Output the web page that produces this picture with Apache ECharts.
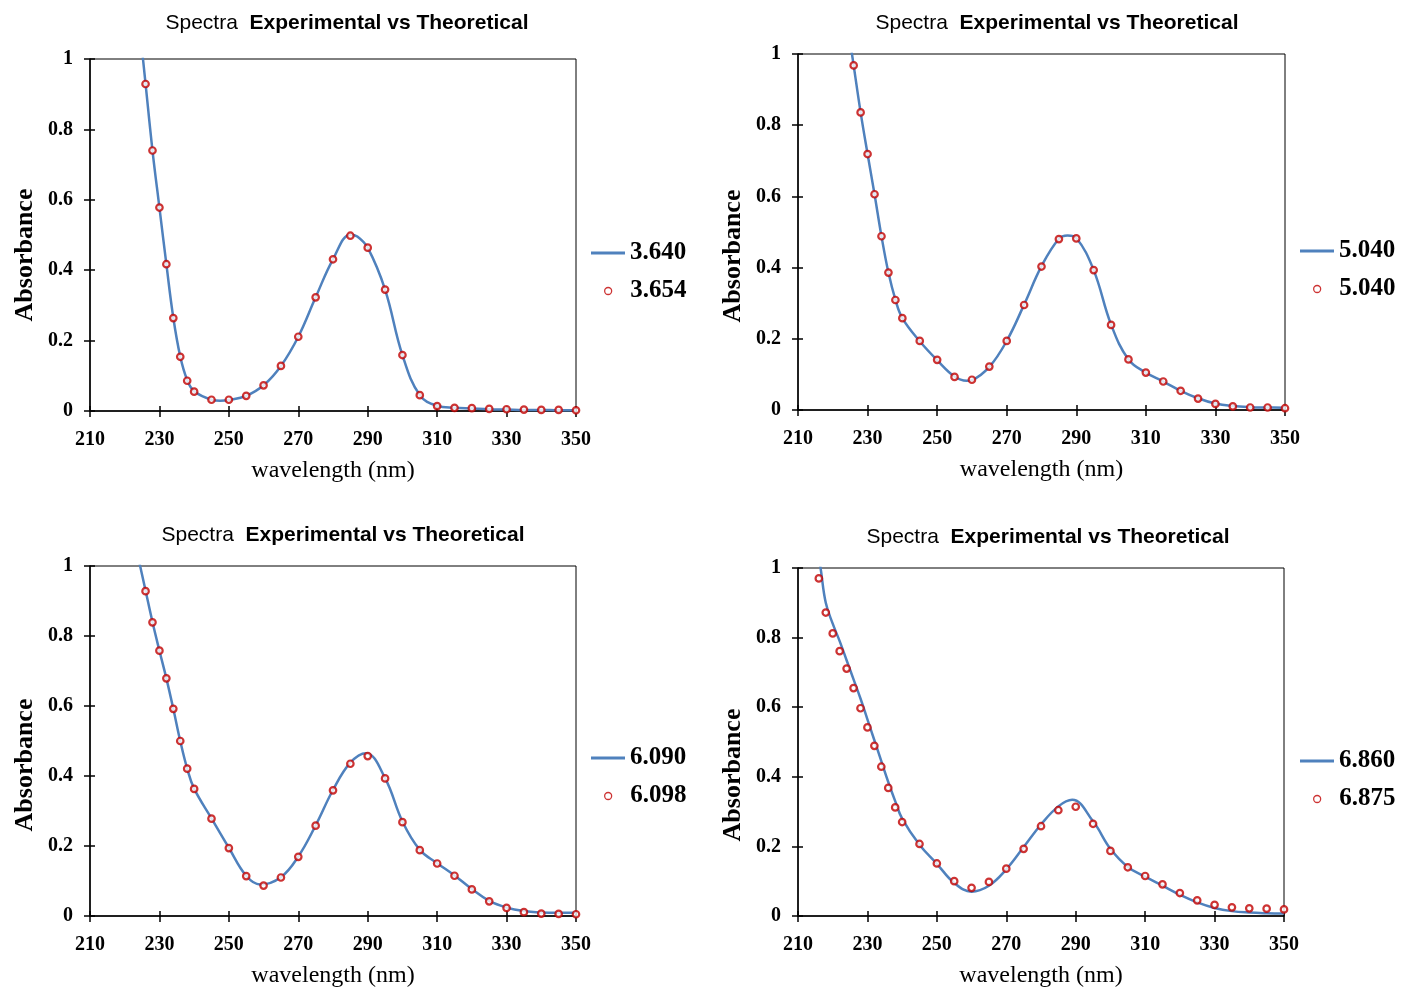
<!DOCTYPE html>
<html>
<head>
<meta charset="utf-8">
<title>Spectra Experimental vs Theoretical</title>
<script src="https://cdn.jsdelivr.net/npm/echarts@6/dist/echarts.min.js"></script>
<style>
    html, body { margin: 0; padding: 0; background: #fff; }
    #chart { width: 1401px; height: 989px; }
</style>
</head>
<body>
<div id="chart"></div>
<script>
    // tick labels
    const xTicks = [210, 230, 250, 270, 290, 310, 330, 350];

    // wavelengths of the experimental points
    const expX = [226, 228, 230, 232, 234, 236, 238, 240, 245, 250, 255, 260, 265, 270, 275,
        280, 285, 290, 295, 300, 305, 310, 315, 320, 325, 330, 335, 340, 345, 350];
    const expX4 = [216, 218, 220, 222, 224, 226, 228, 230, 232, 234, 236, 238, 240, 245, 250,
        255, 260, 265, 270, 275, 280, 285, 290, 295, 300, 305, 310, 315, 320, 325, 330, 335, 340, 345, 350];

    // panel 1 : 3.640 / 3.654
    const exp1 = [0.929, 0.740, 0.578, 0.417, 0.264, 0.154, 0.086, 0.055, 0.032, 0.032, 0.043, 0.073, 0.128, 0.211, 0.323,
        0.431, 0.498, 0.464, 0.345, 0.159, 0.045, 0.014, 0.009, 0.008, 0.006, 0.005, 0.004, 0.003, 0.003, 0.002];
    const theoX1 = [224, 226, 228, 230, 232, 234, 236, 238, 240, 245, 247.5, 250, 255, 260, 265, 270, 275, 280,
        285, 287, 290, 295, 300, 305, 310, 315, 320, 325, 330, 335, 340, 345, 350];
    const theo1 = [1.12, 0.930, 0.740, 0.578, 0.417, 0.265, 0.155, 0.088, 0.056, 0.032, 0.029, 0.031, 0.043, 0.073, 0.128, 0.211, 0.323, 0.431,
        0.501, 0.496, 0.464, 0.345, 0.159, 0.045, 0.015, 0.009, 0.007, 0.005, 0.004, 0.003, 0.003, 0.002, 0.002];

    // panel 2 : 5.040 / 5.040
    const exp2 = [0.968, 0.836, 0.719, 0.606, 0.488, 0.386, 0.309, 0.258, 0.194, 0.141, 0.093, 0.085, 0.122, 0.194, 0.295,
        0.403, 0.480, 0.482, 0.393, 0.239, 0.142, 0.105, 0.080, 0.054, 0.032, 0.017, 0.010, 0.007, 0.007, 0.005];
    const theoX2 = [224, 226, 228, 230, 232, 234, 236, 238, 240, 245, 250, 255, 258.5, 260, 265, 270, 275, 280,
        285, 287.5, 290, 295, 300, 305, 310, 315, 320, 325, 330, 335, 340, 345, 350];
    const theo2 = [1.10, 0.968, 0.836, 0.719, 0.606, 0.488, 0.386, 0.310, 0.258, 0.193, 0.140, 0.094, 0.082, 0.084, 0.121, 0.194, 0.296, 0.404,
        0.481, 0.490, 0.483, 0.393, 0.240, 0.142, 0.105, 0.080, 0.054, 0.033, 0.018, 0.011, 0.008, 0.007, 0.006];

    // panel 3 : 6.090 / 6.098
    const exp3 = [0.928, 0.839, 0.758, 0.679, 0.592, 0.500, 0.421, 0.363, 0.278, 0.194, 0.114, 0.087, 0.110, 0.169, 0.258,
        0.359, 0.435, 0.457, 0.393, 0.268, 0.188, 0.150, 0.115, 0.076, 0.042, 0.023, 0.011, 0.007, 0.006, 0.005];
    const theoX3 = [222, 224, 226, 228, 230, 232, 234, 236, 238, 240, 245, 250, 255, 259, 265, 270, 275, 280,
        285, 289.5, 295, 300, 305, 310, 315, 320, 325, 330, 335, 340, 345, 350];
    const theo3 = [1.11, 1.02, 0.930, 0.840, 0.758, 0.679, 0.592, 0.500, 0.421, 0.364, 0.279, 0.195, 0.115, 0.090, 0.111, 0.170, 0.259, 0.360,
        0.438, 0.465, 0.394, 0.270, 0.189, 0.151, 0.116, 0.077, 0.043, 0.024, 0.014, 0.010, 0.009, 0.009];

    // panel 4 : 6.860 / 6.875
    const exp4 = [0.970, 0.872, 0.812, 0.761, 0.711, 0.655, 0.597, 0.542, 0.489, 0.429, 0.368, 0.312, 0.270, 0.207, 0.151,
        0.100, 0.081, 0.098, 0.136, 0.193, 0.258, 0.304, 0.314, 0.265, 0.187, 0.140, 0.115, 0.091, 0.066, 0.045, 0.032, 0.025, 0.022, 0.021, 0.019];
    const theoX4 = [215, 216.5, 218, 220, 222, 224, 226, 228, 230, 232, 234, 236, 238, 240, 245, 250, 255, 260, 265, 270,
        275, 280, 285, 289, 295, 300, 305, 310, 315, 320, 325, 330, 335, 340, 345, 350];
    const theo4 = [1.09, 1.00, 0.900, 0.840, 0.790, 0.735, 0.680, 0.625, 0.565, 0.505, 0.445, 0.385, 0.330, 0.280, 0.205, 0.150, 0.095, 0.070, 0.087, 0.134,
        0.198, 0.263, 0.315, 0.334, 0.272, 0.193, 0.141, 0.113, 0.087, 0.061, 0.039, 0.023, 0.014, 0.010, 0.008, 0.007];

    const panels = [
        {theoName: '3.640', expName: '3.654', ex: expX, ey: exp1, tx: theoX1, ty: theo1,
            grid: [90, 59, 486, 352], title: [347, 25], legend: [591, 251], nameShift: 20},
        {theoName: '5.040', expName: '5.040', ex: expX, ey: exp2, tx: theoX2, ty: theo2,
            grid: [798, 54, 487, 356], title: [1057, 25], legend: [1300, 249], nameShift: 24},
        {theoName: '6.090', expName: '6.098', ex: expX, ey: exp3, tx: theoX3, ty: theo3,
            grid: [90, 566, 486, 350], title: [343, 537], legend: [591, 756], nameShift: 24},
        {theoName: '6.860', expName: '6.875', ex: expX4, ey: exp4, tx: theoX4, ty: theo4,
            grid: [798, 568, 486, 351], title: [1048, 539], legend: [1300, 759], nameShift: 33}
    ];

    const SERIF = '"Liberation Serif", "Times New Roman", serif';
    const SANS = '"Liberation Sans", Arial, sans-serif';
    const BLUE = '#4F81BD', RED = '#C00000';

    const option = {
        backgroundColor: '#fff',
        animation: false,
        title: [], grid: [], xAxis: [], yAxis: [], legend: [], series: []
    };

    panels.forEach(function (p, i) {
        option.title.push({
            text: '{a|Spectra}  {b|Experimental vs Theoretical}',
            left: p.title[0], top: p.title[1] - 12, textAlign: 'center', padding: 0,
            textStyle: {
                fontFamily: SANS, fontSize: 21, fontWeight: 'normal', color: '#000',
                rich: {
                    a: {fontFamily: SANS, fontSize: 21, color: '#000'},
                    b: {fontFamily: SANS, fontSize: 21, fontWeight: 'bold', color: '#000'}
                }
            }
        });
        option.grid.push({
            left: p.grid[0], top: p.grid[1], width: p.grid[2], height: p.grid[3],
            show: true, borderColor: '#000', borderWidth: 1, backgroundColor: 'transparent'
        });
        // main axes
        option.xAxis.push({
            gridIndex: i, type: 'value', min: 210, max: 350, position: 'bottom',
            axisLine: {lineStyle: {color: '#000', width: 1.5}},
            axisTick: {length: 6, customValues: xTicks, lineStyle: {color: '#000', width: 1.5}},
            axisLabel: {customValues: xTicks, margin: 19, fontFamily: SERIF, fontWeight: 'bold', fontSize: 20, color: '#000'},
            splitLine: {show: false},
            name: 'wavelength (nm)', nameLocation: 'middle', nameGap: 48,
            nameTextStyle: {fontFamily: SERIF, fontSize: 24, color: '#000'}
        });
        option.yAxis.push({
            gridIndex: i, type: 'value', min: 0, max: 1, interval: 0.2, position: 'left',
            axisLine: {lineStyle: {color: '#000', width: 1.5}},
            axisTick: {length: 6, lineStyle: {color: '#000', width: 1.5}},
            axisLabel: {margin: 17, fontFamily: SERIF, fontWeight: 'bold', fontSize: 20, color: '#000'},
            splitLine: {show: false},
            name: 'Absorbance', nameLocation: 'middle', nameGap: 52,
            nameTextStyle: {fontFamily: SERIF, fontWeight: 'bold', fontSize: 26, color: '#000',
                padding: [0, p.nameShift * 2, 0, 0]}
        });
    });

    // second set of axes only for the inner half of the crossing ticks
    panels.forEach(function (p, i) {
        option.xAxis.push({
            gridIndex: i, type: 'value', min: 210, max: 350, position: 'bottom',
            axisLine: {show: false}, axisLabel: {show: false}, splitLine: {show: false},
            axisTick: {inside: true, length: 5, customValues: xTicks, lineStyle: {color: '#000', width: 1.5}}
        });
        option.yAxis.push({
            gridIndex: i, type: 'value', min: 0, max: 1, interval: 0.2, position: 'left',
            axisLine: {show: false}, axisLabel: {show: false}, splitLine: {show: false},
            axisTick: {inside: true, length: 5, lineStyle: {color: '#000', width: 1.5}}
        });
    });

    panels.forEach(function (p, i) {
        const expSeriesName = p.expName + ' ';
        option.series.push({
            name: p.theoName, type: 'line', xAxisIndex: i, yAxisIndex: i,
            data: p.tx.map(function (x, k) { return [x, p.ty[k]]; }),
            smooth: 0.4, symbol: 'none', clip: true, z: 2,
            lineStyle: {color: BLUE, width: 2.5},
            itemStyle: {color: BLUE}
        });
        option.series.push({
            name: expSeriesName, type: 'scatter', xAxisIndex: i, yAxisIndex: i,
            data: p.ex.map(function (x, k) { return [x, p.ey[k]]; }),
            symbol: 'circle', symbolSize: 6.5, z: 3,
            itemStyle: {color: '#fff', borderColor: RED, borderWidth: 2.2}
        });
        const legendText = {fontFamily: SERIF, fontWeight: 'bold', fontSize: 25, lineHeight: 26, color: '#000'};
        option.legend.push({
            left: p.legend[0], top: p.legend[1] - 11, padding: 0, itemWidth: 34, itemHeight: 3,
            selectedMode: false, textStyle: legendText,
            formatter: function (n) { return n.trim(); },
            data: [{name: p.theoName, icon: 'rect', itemStyle: {color: BLUE, borderWidth: 0}}]
        });
        option.legend.push({
            left: p.legend[0] + 13, top: p.legend[1] + 38 - 11, padding: 0, itemWidth: 34, itemHeight: 7,
            selectedMode: false, textStyle: legendText,
            formatter: function (n) { return n.trim(); },
            data: [{name: expSeriesName, icon: 'circle', itemStyle: {color: '#fff', borderColor: RED, borderWidth: 1.3}}]
        });
    });

    const chart = echarts.init(document.getElementById('chart'));
    chart.setOption(option);

    window.onresize = function () {
        chart.resize();
    };
</script>
</body>
</html>
